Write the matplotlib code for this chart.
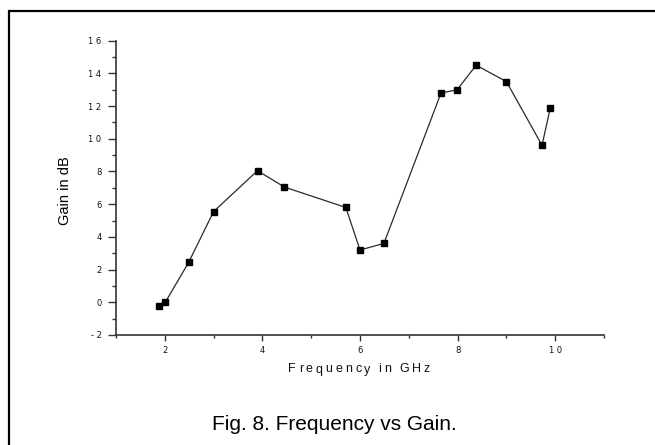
import matplotlib
matplotlib.use("Agg")
import matplotlib.pyplot as plt
from matplotlib.ticker import MultipleLocator
from matplotlib.patches import Rectangle
from matplotlib import font_manager
from matplotlib.font_manager import FontProperties
from matplotlib.ft2font import FT2Font

freq = [1.88, 2.01, 2.49, 3.0, 3.90, 4.45, 5.71, 6.0, 6.49, 7.66, 7.99, 8.38, 9.0, 9.73, 9.90]
gain = [-0.25, 0.0, 2.45, 5.55, 8.05, 7.05, 5.8, 3.2, 3.6, 12.8, 13.0, 14.5, 13.5, 9.6, 11.9]
xticks = [2, 4, 6, 8, 10]
yticks = [-2, 0, 2, 4, 6, 8, 10, 12, 14, 16]
xlabel = 'Frequency in GHz'
ylabel = 'Gain in dB'
caption = 'Fig. 8. Frequency vs Gain.'

W, H, DPI = 655, 445, 100
fig = plt.figure(figsize=(W / DPI, H / DPI), dpi=DPI)
fig.patches.append(Rectangle((9 / W, -0.1), 1.2, 1 - 11 / H + 0.1, transform=fig.transFigure,
                             fill=False, edgecolor='black', linewidth=1.6))

ax = fig.add_axes([116 / W, 1 - 335 / H, (604 - 116) / W, (335 - 40.7) / H])
ax.plot(freq, gain, color='#2a2a2a', linewidth=0.9, marker='s', markersize=5,
        markerfacecolor='black', markeredgecolor='black')
ax.set_xlim(1, 11)
ax.set_ylim(-2, 16)
ax.set_xticks(xticks)
ax.set_yticks(yticks)
ax.set_xticklabels([' '.join(str(v)) for v in xticks], family='DejaVu Sans', fontsize=6, color='#111111')
ax.set_yticklabels([' '.join(str(v)) for v in yticks], family='DejaVu Sans', fontsize=6, color='#111111')
ax.xaxis.set_minor_locator(MultipleLocator(1))
ax.yaxis.set_minor_locator(MultipleLocator(1))
ax.spines['top'].set_visible(False)
ax.spines['right'].set_visible(False)
for s in ('left', 'bottom'):
    ax.spines[s].set_linewidth(1.2)
    ax.spines[s].set_color('#333333')
ax.tick_params(axis='x', which='major', direction='out', length=4, width=1.0, color='#333333', pad=4)
ax.tick_params(axis='x', which='minor', direction='out', length=2, width=1.0, color='#333333')
ax.tick_params(axis='y', which='major', direction='out', length=5.5, width=1.0, color='#333333', pad=5)
ax.tick_params(axis='y', which='minor', direction='out', length=3, width=1.0, color='#333333')


def tracked_text(s, xc, yc, size, family, track_px, space_scale=0.6):
    path = font_manager.findfont(FontProperties(family=family))
    ft = FT2Font(path)
    ft.set_size(size, DPI)
    adv = []
    for ch in s:
        g = ft.load_char(ord(ch))
        a = g.linearHoriAdvance / 65536.0
        if ch == ' ':
            a *= space_scale
        adv.append(a)
    total = sum(adv) + track_px * (len(s) - 1)
    x = xc - total / 2.0
    for ch, a in zip(s, adv):
        if ch != ' ':
            fig.text(x / W, 1 - yc / H, ch, fontsize=size, family=family,
                     ha='left', va='center', color='#111111')
        x += a + track_px


tracked_text(xlabel, 359, 369.5, 9, 'Liberation Sans', 2.9)

fig.text(65 / W, 1 - 191 / H, ylabel, rotation=90, ha='center', va='center',
         fontsize=10.5, family='Liberation Sans')

fig.text(334 / W, 1 - 424 / H, caption, ha='center', va='center',
         fontsize=15, family='Liberation Sans')

fig.savefig('out.png', dpi=DPI, facecolor='white')
